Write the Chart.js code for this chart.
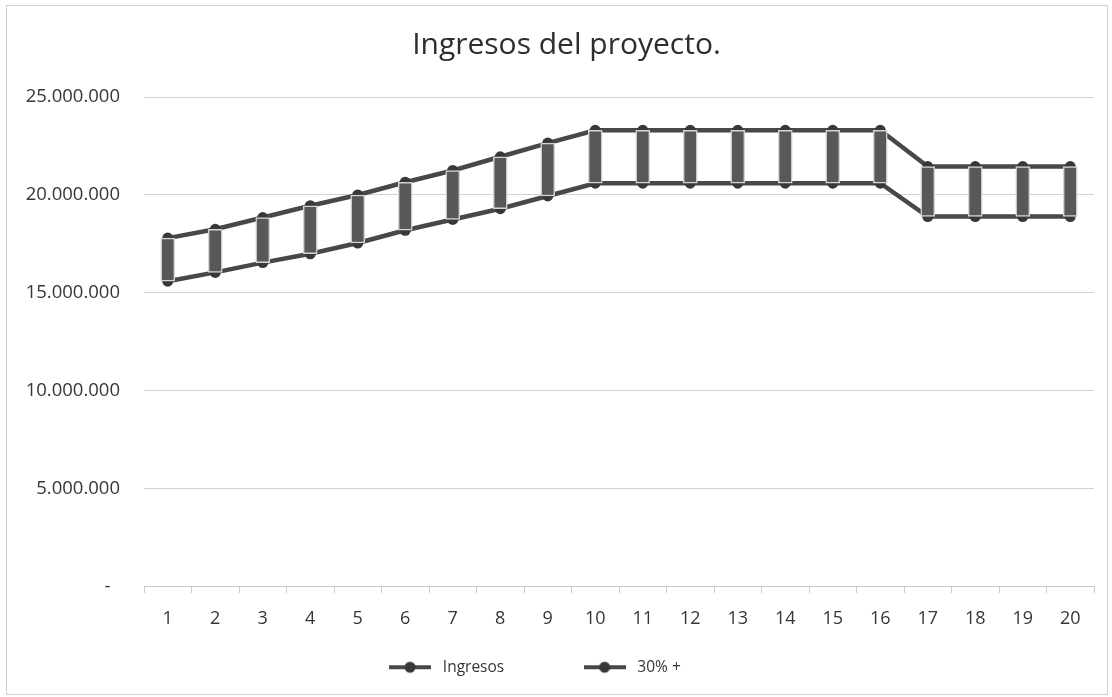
<!DOCTYPE html>
<html>
<head>
<meta charset="utf-8">
<title>Ingresos del proyecto</title>
<script src="https://cdn.jsdelivr.net/npm/chart.js@4.4.1/dist/chart.umd.min.js"></script>
<style>
  html, body { margin: 0; padding: 0; background: #fff; }
  #wrap { position: relative; width: 1112px; height: 697px; }
</style>
</head>
<body>
<div id="wrap"><canvas id="myChart" width="1112" height="697"></canvas></div>
<script>
// data
var periodos = ["1","2","3","4","5","6","7","8","9","10","11","12","13","14","15","16","17","18","19","20"];
var ingresos = [15600000,16050000,16550000,17000000,17550000,18200000,18750000,19300000,19950000,20600000,
                20600000,20600000,20600000,20600000,20600000,20600000,18900000,18900000,18900000,18900000];
var mas30 = [17800000,18250000,18850000,19450000,20000000,20650000,21250000,21950000,22650000,23300000,
             23300000,23300000,23300000,23300000,23300000,23300000,21450000,21450000,21450000,21450000];
var yTicks = [0, 5000000, 10000000, 15000000, 20000000, 25000000];

var lineColor = '#484848';
var textColor = '#363636';
var fontName = "'Open Sans', sans-serif";

// high-low bars between the two series
var rangos = ingresos.map(function(v, i) { return [v, mas30[i]]; });

function fmt(v) {
  if (v === 0) return '-  ';
  return String(v).replace(/\B(?=(\d{3})+(?!\d))/g, '.');
}

// little line+marker image for the legend
function legendMark() {
  var c = document.createElement('canvas');
  c.width = 42; c.height = 14;
  var g = c.getContext('2d');
  g.strokeStyle = lineColor;
  g.lineWidth = 4;
  g.beginPath(); g.moveTo(0, 7); g.lineTo(42, 7); g.stroke();
  g.fillStyle = '#383838';
  g.beginPath(); g.arc(21, 7, 5.5, 0, Math.PI * 2); g.fill();
  return c;
}
var mark = legendMark();

var frame = {
  id: 'frame',
  beforeDraw: function(chart) {
    var c = chart.ctx;
    c.save();
    c.strokeStyle = '#cfcfcf';
    c.lineWidth = 1;
    c.strokeRect(6.5, 5.5, 1101, 689);
    c.restore();
  }
};

var ctx = document.getElementById('myChart');
var myChart = new Chart(ctx, {
  type: 'line',
  data: {
    labels: periodos,
    datasets: [{
      type: 'bar',
      label: 'rango',
      data: rangos,
      backgroundColor: '#585858',
      borderColor: '#d4d4d4',
      borderWidth: 1.5,
      borderSkipped: false,
      barThickness: 14,
      order: 0
    }, {
      label: 'Ingresos',
      data: ingresos,
      borderColor: lineColor,
      backgroundColor: '#383838',
      borderWidth: 4.5,
      pointRadius: 5.5,
      pointBorderWidth: 0,
      fill: false,
      tension: 0,
      order: 1
    }, {
      label: '30% +',
      data: mas30,
      borderColor: lineColor,
      backgroundColor: '#383838',
      borderWidth: 4.5,
      pointRadius: 5.5,
      pointBorderWidth: 0,
      fill: false,
      tension: 0,
      order: 1
    }]
  },
  options: {
    responsive: false,
    animation: false,
    layout: { padding: { left: 0, right: 18, top: 0, bottom: 12 } },
    plugins: {
      title: {
        display: true,
        // leading spaces nudge the centred title to the right like the original
        text: '     Ingresos del proyecto.',
        color: '#2e2e2e',
        font: { family: fontName, size: 30, weight: 'normal' },
        padding: { top: 27, bottom: 34 }
      },
      legend: {
        position: 'bottom',
        labels: {
          color: textColor,
          font: { family: fontName, size: 15.5 },
          usePointStyle: true,
          pointStyleWidth: 50,
          padding: 15,
          generateLabels: function(chart) {
            return [
              { text: 'Ingresos               ', pointStyle: mark, fillStyle: lineColor, strokeStyle: lineColor, lineWidth: 0, datasetIndex: 1, fontColor: textColor },
              { text: '30% +       ', pointStyle: mark, fillStyle: lineColor, strokeStyle: lineColor, lineWidth: 0, datasetIndex: 2, fontColor: textColor }
            ];
          }
        }
      },
      tooltip: { enabled: false }
    },
    scales: {
      x: {
        offset: true,
        grid: { offset: true, drawOnChartArea: false, drawTicks: true, tickLength: 6, color: '#c8c8c8' },
        border: { display: true, color: '#c8c8c8' },
        ticks: { color: textColor, font: { family: fontName, size: 18 }, padding: 15, maxRotation: 0 }
      },
      y: {
        min: 0,
        max: 25000000,
        afterFit: function(scale) { scale.width = 144; },
        afterBuildTicks: function(scale) { scale.ticks = yTicks.map(function(v) { return { value: v }; }); },
        grid: { color: '#d2d2d2', drawTicks: false },
        border: { display: false },
        ticks: { color: textColor, font: { family: fontName, size: 18.5 }, padding: 24, callback: fmt }
      }
    }
  },
  plugins: [frame]
});
</script>
</body>
</html>
